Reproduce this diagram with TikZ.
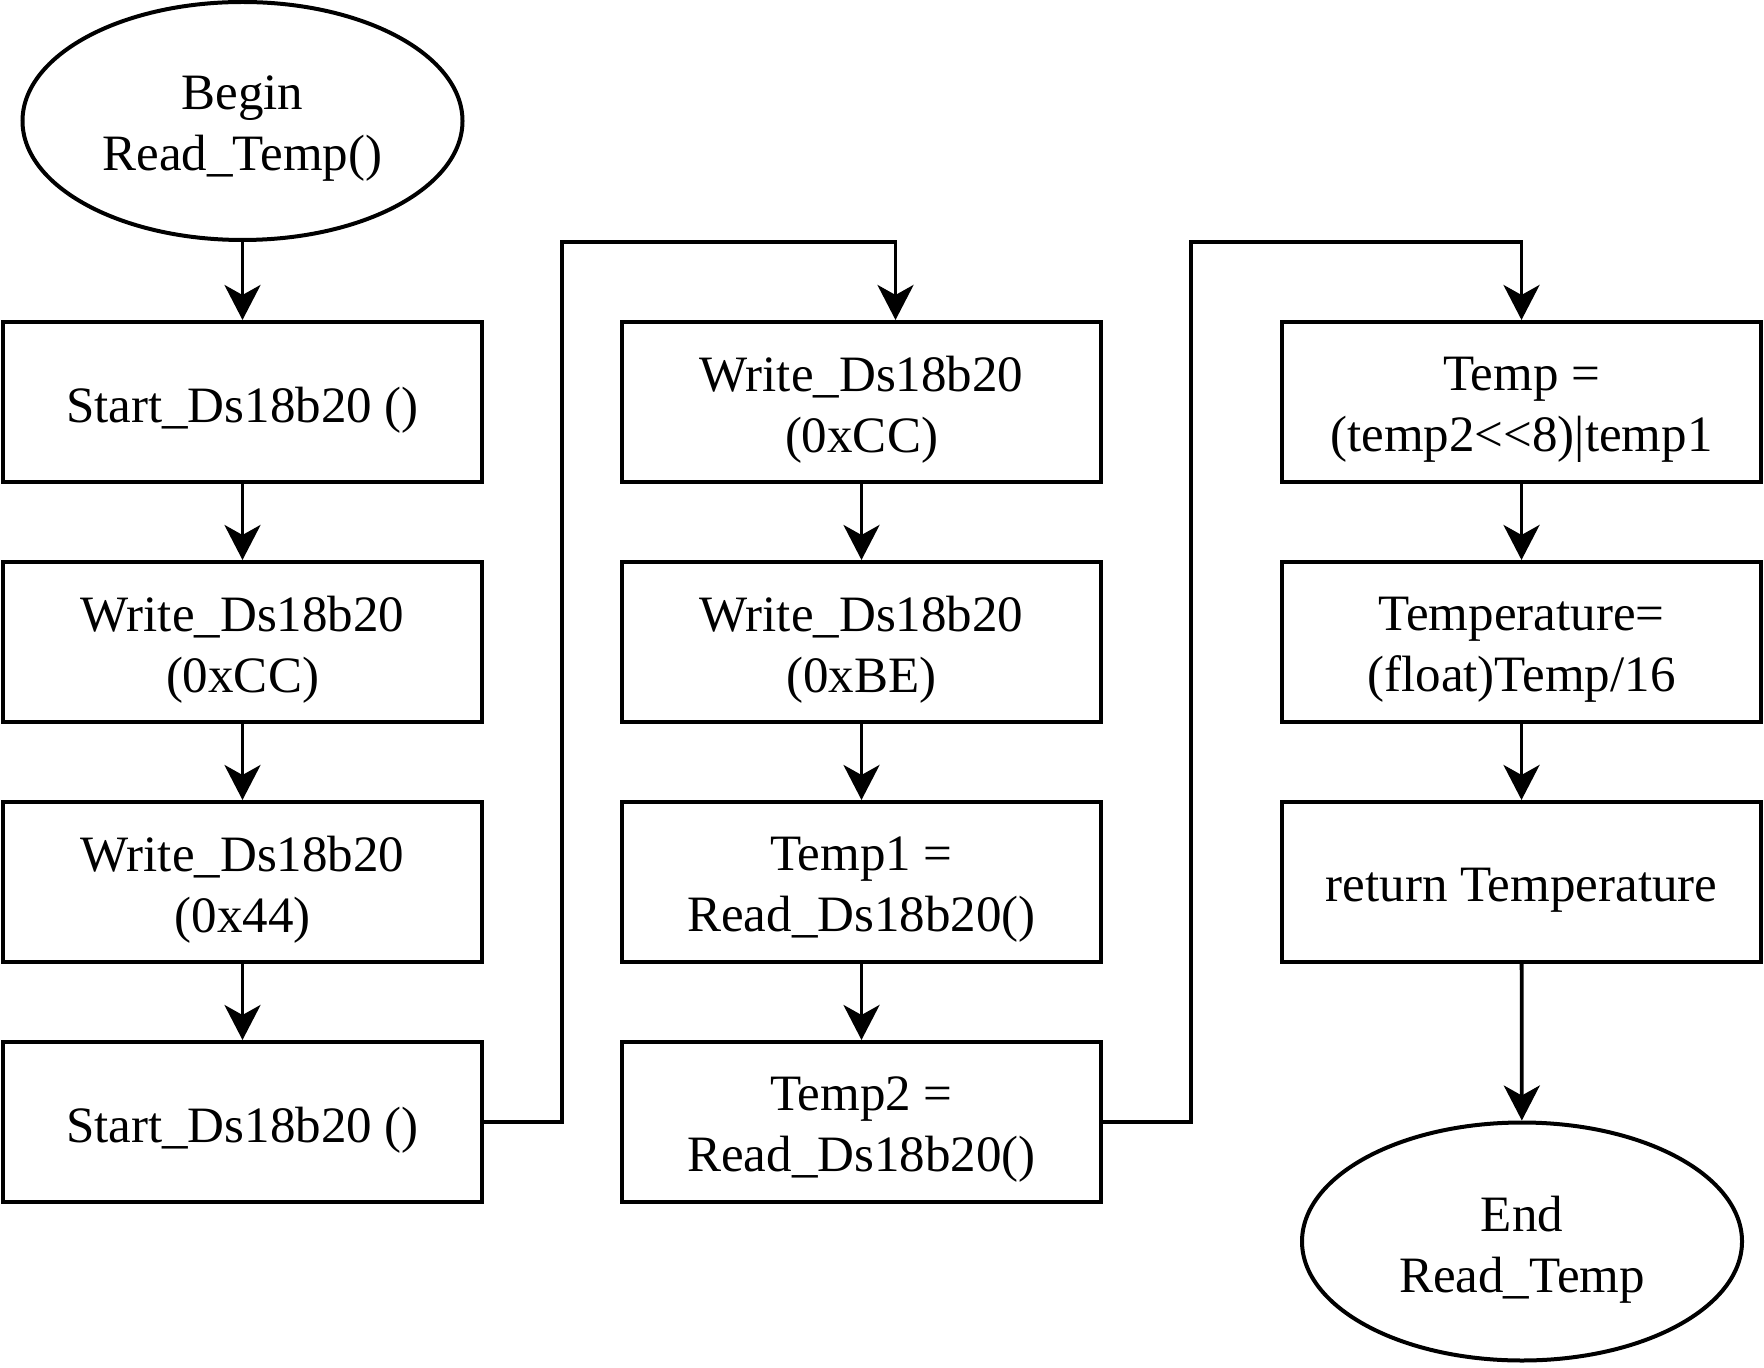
\documentclass[tikz,border=0pt]{standalone}
\usepackage{fontspec}
\setmainfont{Liberation Serif}
\usetikzlibrary{shapes.geometric,arrows.meta}
\begin{document}
\begin{tikzpicture}[x=0.5pt,y=-0.5pt,
  every node/.style={font=\fontsize{25.5}{30.5}\selectfont, align=center, inner sep=0pt},
  lbl/.style={font=\fontsize{25.5}{30.5}\selectfont, align=center, inner sep=0pt, yshift=-4pt},
  txt/.style={label={[lbl]center:{#1}}},
  procbox/.style={draw, line width=2pt, rectangle, minimum width=239.5pt, minimum height=80pt},
  term/.style={draw, line width=2pt, ellipse, minimum width=220pt, minimum height=119pt},
  arr/.style={line width=1.9pt, -{Stealth[length=17.5pt, width=18pt, inset=5pt]}}
]
\useasboundingbox (0,0) rectangle (1764,1368);
% terminals
\node[term, txt={Begin\\Read\_Temp()}] (begin) at (242.5,121) {};
\node[term, txt={End\\Read\_Temp}] (end) at (1522,1241.5) {};
% column 1
\node[procbox, txt={Start\_Ds18b20 ()}] (s1) at (242.5,402) {};
\node[procbox, txt={Write\_Ds18b20\\(0xCC)}] (s2) at (242.5,642) {};
\node[procbox, txt={Write\_Ds18b20\\(0x44)}] (s3) at (242.5,882) {};
\node[procbox, txt={Start\_Ds18b20 ()}] (s4) at (242.5,1122) {};
% column 2
\node[procbox, txt={Write\_Ds18b20\\(0xCC)}] (w1) at (861.5,402) {};
\node[procbox, txt={Write\_Ds18b20\\(0xBE)}] (w2) at (861.5,642) {};
\node[procbox, txt={Temp1 =\\Read\_Ds18b20()}] (r1) at (861.5,882) {};
\node[procbox, txt={Temp2 =\\Read\_Ds18b20()}] (r2) at (861.5,1122) {};
% column 3
\node[procbox, txt={Temp =\\(temp2<{}<8)|temp1}] (t1) at (1521.5,402) {};
\node[procbox, txt={Temperature=\\(float)Temp/16}] (t2) at (1521.5,642) {};
\node[procbox, txt={return Temperature}] (t3) at (1521.5,882) {};
% junctions
\coordinate (j1) at (562,242);
\coordinate (j2) at (1191,242);
% connectors
\draw[arr] (begin) -- (s1);
\draw[arr] (s1) -- (s2);
\draw[arr] (s2) -- (s3);
\draw[arr] (s3) -- (s4);
\draw[arr] (s4.east) -| (j1) -| ([xshift=17pt]w1.north);
\draw[arr] (w1) -- (w2);
\draw[arr] (w2) -- (r1);
\draw[arr] (r1) -- (r2);
\draw[arr] (r2.east) -| (j2) -| (t1.north);
\draw[arr] (t1) -- (t2);
\draw[arr] (t2) -- (t3);
\draw[arr] (t3) -- (end);
\end{tikzpicture}
\end{document}
